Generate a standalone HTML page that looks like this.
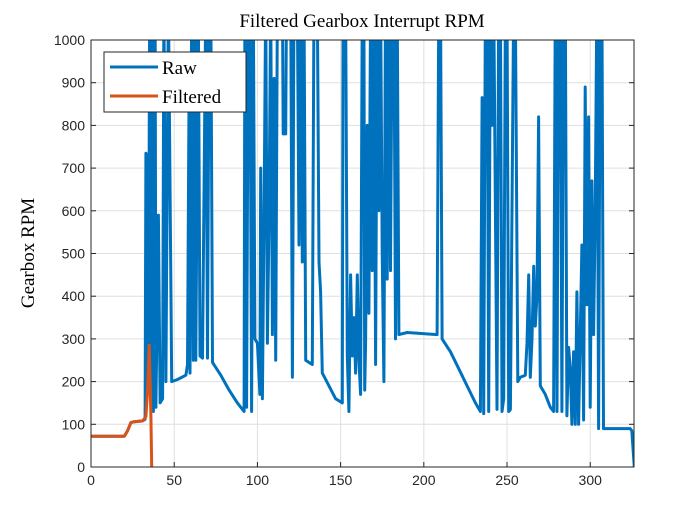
<!DOCTYPE html>
<html><head><meta charset="utf-8"><style>
body{margin:0;background:#fff;}
svg text{font-family:"Liberation Sans",sans-serif;}
</style></head><body>
<svg id="chart" width="700" height="525">
<rect x="0" y="0" width="700" height="525" fill="#fff"/>
<defs><clipPath id="clip"><rect x="91" y="40" width="543" height="427"/></clipPath></defs>
<g id="grid"></g>
<g id="series" clip-path="url(#clip)"></g>
<rect x="91" y="40" width="543" height="427" fill="none" stroke="#262626" stroke-width="1"/>
<g id="ticks"></g>
<text x="362" y="27" text-anchor="middle" font-size="19" style="font-family:'Liberation Serif',serif" fill="#000">Filtered Gearbox Interrupt RPM</text>
<text transform="translate(34,253) rotate(-90)" text-anchor="middle" font-size="19" style="font-family:'Liberation Serif',serif" fill="#000">Gearbox RPM</text>
<g>
<rect x="104" y="52" width="142" height="60" fill="#fff" stroke="#262626" stroke-width="1"/>
<line x1="110" y1="67" x2="158" y2="67" stroke="#0072BD" stroke-width="3"/>
<text x="162" y="74" font-size="19" style="font-family:'Liberation Serif',serif">Raw</text>
<line x1="110" y1="96" x2="158" y2="96" stroke="#D95319" stroke-width="3"/>
<text x="162" y="103" font-size="19" style="font-family:'Liberation Serif',serif">Filtered</text>
</g>
</svg>
<script>
const xTicks=[0,50,100,150,200,250,300];
const yTicks=[0,100,200,300,400,500,600,700,800,900,1000];
const rawX=[0,20,22,24,26,31,32.5,33,33.8,34.2,34.7,35.3,36,36.8,37.5,38.5,39,40.5,41.5,43,43.8,45,46.5,48.5,52,57,58,59,59.5,60.5,61.5,62.5,63,64.5,65.5,67,69,70,71,72,73,78,83,88,92,92.5,93.5,94.5,95.5,96.5,97.5,98.5,100,101.5,102,103,104,105,106,107,108,109,110,111,112,115,115.5,117,117.5,120,121,122,124,125,126,127,128,129,133,134,136,137,138,139,143,147,151,151.5,153,154,155,156,157,158,159,160,161,162,163,164,164.5,165,166,167,168,169,170,171,172,173,174,175,176,177,178,179,180,181,182,183,184,185,190,208,209,210,211,216,221,226,231,234,235,236,237,238,239,240,241,242,244,245,246,247,248,249,250,251,252,254,255,256.5,258,261,262,263,264,265,266,267,268,269,270,273,276,278,279,280,281,282,283,284,285,286,287,288,289,290,291,292,293,295,296,297,298,299,300,301,302,303,304,305,306,307,308,315,324,325,326.5];
const rawY=[72,72,85,104,106,108,112,735,730,200,430,1100,150,1100,130,1100,140,590,150,160,1100,200,1100,200,205,215,240,940,220,1100,250,1100,250,1100,260,255,1100,255,1100,1100,245,215,180,150,130,1100,140,1100,1100,130,1100,300,290,170,700,160,600,1100,290,600,1100,310,910,250,1100,1100,780,780,1100,1100,210,1100,1100,520,1100,480,1100,250,240,1100,1100,480,410,220,190,160,150,1100,1100,260,130,450,260,350,220,450,250,170,1100,1100,180,290,800,360,1100,460,1100,240,1100,600,1100,500,200,1100,440,1100,460,1100,1100,300,1100,310,315,310,1100,1100,300,270,230,190,150,130,865,125,1100,1100,130,1100,800,1100,135,1100,1100,130,160,1100,1100,130,135,1100,1100,200,210,215,290,450,210,300,470,330,400,820,190,170,140,130,1100,130,1100,1100,130,1100,1100,120,280,230,100,270,100,410,100,520,110,890,380,820,140,670,310,600,1100,90,1100,1100,90,90,90,85,0];
const filtX=[0,20,22,24,26,31,33,34,35,36,36.5];
const filtY=[72,72,85,104,106,108,118,180,285,120,0];
const X=v=>91+v*(543/326.3);
const Y=v=>467-v*0.427;
const NS='http://www.w3.org/2000/svg';
const grid=document.getElementById('grid'),ticks=document.getElementById('ticks'),series=document.getElementById('series');
function mk(tag,attrs,parent){const e=document.createElementNS(NS,tag);for(const k in attrs)e.setAttribute(k,attrs[k]);parent.appendChild(e);return e;}
xTicks.forEach(t=>{
 const g=mk('line',{x1:X(t),x2:X(t),y1:40,y2:467,stroke:'#dfdfdf','stroke-width':1},grid);
 
 
 mk('line',{x1:X(t),x2:X(t),y1:467,y2:462,stroke:'#262626'},ticks);
 const tx=mk('text',{x:X(t),y:485,'text-anchor':'middle','font-size':14,fill:'#262626'},ticks);
 tx.textContent=t;
 
 
});
yTicks.forEach(t=>{
 const g=mk('line',{x1:91,x2:634,y1:Y(t),y2:Y(t),stroke:'#dfdfdf','stroke-width':1},grid);
 
 
 mk('line',{x1:91,x2:96,y1:Y(t),y2:Y(t),stroke:'#262626'},ticks);
 mk('line',{x1:629,x2:634,y1:Y(t),y2:Y(t),stroke:'#262626'},ticks);
 const tx=mk('text',{x:85,y:Y(t)+5,'text-anchor':'end','font-size':14,fill:'#262626'},ticks);
 tx.textContent=t;
 
 
});
function pts(xs,ys){return xs.map((x,i)=>X(x).toFixed(1)+','+Y(ys[i]).toFixed(1)).join(' ');}
const raw=mk('polyline',{points:pts(rawX,rawY),fill:'none',stroke:'#0072BD','stroke-width':3,'stroke-linejoin':'round'},series);


const filt=mk('polyline',{points:pts(filtX,filtY),fill:'none',stroke:'#D95319','stroke-width':3,'stroke-linejoin':'round'},series);


</script>
</body></html>
